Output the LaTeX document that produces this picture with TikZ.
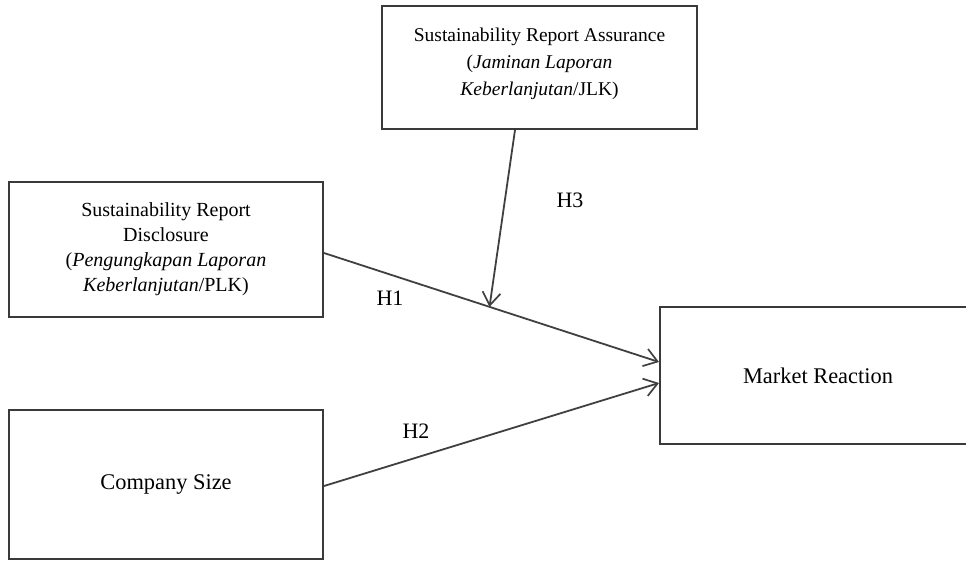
\documentclass[tikz,border=0pt]{standalone}
\usepackage{fontspec}
\setmainfont{Liberation Serif}
\usetikzlibrary{arrows.meta,calc,positioning}
\definecolor{Frame}{HTML}{3A3A3A}
\definecolor{Wire}{HTML}{404040}
\tikzset{
  varbox/.style={
    draw=Frame, line width=2pt, fill=white, align=center,
    inner sep=0pt, anchor=center
  },
  path/.style={-{Straight Barb[length=13pt,width=18pt,line width=1.7pt]},
    line width=1.8pt, draw=Wire},
  hyp/.style={font=\fontsize{22}{26}\selectfont}
}
\begin{document}
\begin{tikzpicture}[x=1pt,y=-1pt]
    \useasboundingbox (0,0) rectangle (966,560);
    % variables
    \node[varbox, minimum width=315pt, minimum height=123pt,
      font=\fontsize{19.5}{27}\selectfont] (jlk) at (539.5,67.5)
      {Sustainability Report Assurance\\(\textit{Jaminan Laporan}\\\textit{Keberlanjutan}/JLK)\\[-15pt]\mbox{}};
    \node[varbox, minimum width=314pt, minimum height=135pt,
      font=\fontsize{20}{25}\selectfont] (plk) at (166,249.5)
      {Sustainability Report\\Disclosure\\(\textit{Pengungkapan Laporan}\\\textit{Keberlanjutan}/PLK)};
    \node[varbox, minimum width=314pt, minimum height=149pt,
      font=\fontsize{22.4}{27}\selectfont] (size) at (166,484.5) {Company Size};
    \node[varbox, minimum width=316pt, minimum height=137pt,
      font=\fontsize{22.4}{27}\selectfont] (market) at (818,375.5) {Market Reaction};
    % hypotheses
    \coordinate (h1s) at (plk.east |- 0,253);
    \coordinate (h1e) at (market.west |- 0,362);
    \coordinate (h2s) at (size.east |- 0,486);
    \coordinate (h2e) at (market.west |- 0,383);
    \draw[path] (h1s) -- (h1e) coordinate[pos=0.494] (mod);
    \draw[path] (h2s) -- (h2e);
    \draw[path] (jlk.south -| 515,0) -- (mod);
    \node[hyp] (lab1) at (390,298) {H1};
    \node[hyp] (lab2) at (416,431) {H2};
    \node[hyp] (lab3) at (570,200) {H3};
  \end{tikzpicture}
\end{document}
